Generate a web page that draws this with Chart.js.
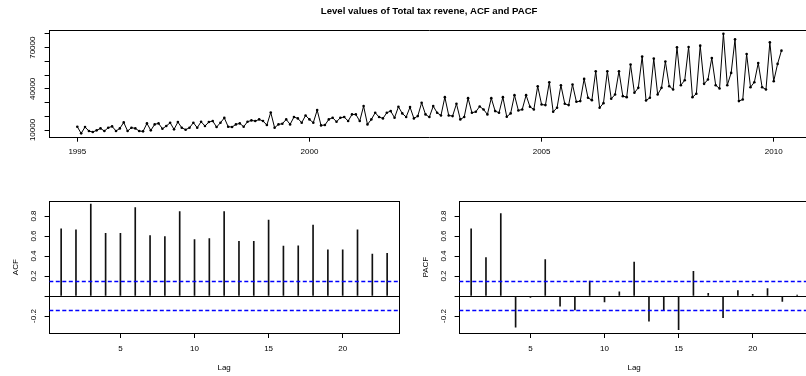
<!DOCTYPE html>
<html>
<head>
<meta charset="utf-8">
<title>Level values of Total tax revene, ACF and PACF</title>
<script src="https://cdn.jsdelivr.net/npm/chart.js@4.4.1/dist/chart.umd.min.js"></script>
<style>
    html, body { margin: 0; padding: 0; background: #fff; overflow: hidden; }
    #wrap { position: relative; width: 806px; height: 376px; overflow: hidden; }
    canvas { position: absolute; }
    #top { left: 0; top: 0; }
    #acf { left: 0; top: 160px; }
    #pacf { left: 410px; top: 160px; }
</style>
</head>
<body>
<div id="wrap">
    <canvas id="top" width="820" height="165"></canvas>
    <canvas id="acf" width="410" height="216"></canvas>
    <canvas id="pacf" width="410" height="216"></canvas>
</div>
<script>
// monthly series, Jan 1995 .. Mar 2010
var startYear = 1995;
var freq = 12;
var revenue = [
    12400, 7550, 12160, 9250, 8520, 9730, 11180, 9250, 11670, 12640, 9250, 11180,
    15540, 9250, 11670, 11180, 9250, 9010, 14820, 9730, 14090, 14820, 10940, 12880,
    15300, 10460, 15790, 11670, 10220, 11670, 15300, 11670, 16030, 12880, 15790, 16510,
    12160, 15300, 18800, 12400, 12160, 14090, 14820, 12400, 16030, 16990, 16510, 17720,
    16510, 13610, 22800, 11670, 14090, 14580, 17720, 14090, 19420, 18450, 15300, 20620,
    17720, 15300, 24500, 13370, 13610, 17720, 18930, 16030, 18930, 19420, 16510, 21350,
    21350, 16510, 27410, 14090, 17720, 22560, 19420, 18450, 22560, 23780, 18930, 26920,
    22080, 19420, 26680, 18450, 20140, 29830, 21350, 19420, 27410, 22560, 20620, 33940,
    20620, 20140, 29100, 17720, 19420, 33220, 22560, 23290, 27160, 24980, 21350, 33220,
    23780, 22560, 33940, 19660, 22080, 35400, 24260, 24980, 35400, 26920, 24980, 41930,
    28610, 28130, 44840, 23290, 26190, 42660, 29100, 28130, 43140, 30550, 31040, 47250,
    33460, 31760, 52820, 26190, 29580, 52820, 32730, 35880, 52820, 34670, 33940, 57660,
    37090, 40720, 63470, 31520, 33460, 62020, 35880, 40720, 59840, 41930, 39510, 70250,
    42660, 46290, 70490, 33940, 36360, 71460, 43620, 46770, 62500, 42660, 40230, 80170,
    42660, 51610, 76060, 31040, 32250, 65410, 41200, 44840, 58870, 41200, 39510, 73880,
    45560, 58150, 67830
];
var yearTicks = [1995, 2000, 2005, 2010];
var revenueTicks = [10000, 20000, 30000, 40000, 50000, 60000, 70000, 80000];
var revenueLabels = [10000, 40000, 70000];

var lags = [1, 2, 3, 4, 5, 6, 7, 8, 9, 10, 11, 12, 13, 14, 15, 16, 17, 18, 19, 20, 21, 22, 23];
var acfValues = [0.671, 0.661, 0.919, 0.627, 0.627, 0.885, 0.603, 0.593, 0.844, 0.563, 0.573, 0.844,
    0.546, 0.546, 0.759, 0.498, 0.502, 0.708, 0.461, 0.461, 0.661, 0.420, 0.427];
var pacfValues = [0.671, 0.383, 0.824, -0.312, -0.014, 0.363, -0.102, -0.139, 0.149, -0.058, 0.041, 0.339,
    -0.251, -0.142, -0.336, 0.247, 0.027, -0.217, 0.054, 0.017, 0.075, -0.054, 0.010];
var ciBound = 0.145;
var lagTicks = [5, 10, 15, 20];
var corTicks = [-0.2, 0, 0.2, 0.4, 0.6, 0.8];

Chart.defaults.font.family = "'Liberation Sans', Arial, Helvetica, sans-serif";
Chart.defaults.font.size = 8;
Chart.defaults.color = '#000';

function setTicks(list) {
    return function(scale) {
        scale.ticks = list.map(function(v) { return {value: v}; });
    };
}

// top and right sides of the box, as empty axes
function boxTop() {
    return {
        type: 'linear', position: 'top', display: true,
        ticks: {display: false}, grid: {display: false},
        border: {display: true, color: '#000', width: 1},
        afterFit: function(s) { s.height = 0; }
    };
}
function boxRight() {
    return {
        type: 'linear', position: 'right', display: true,
        ticks: {display: false}, grid: {display: false},
        border: {display: true, color: '#000', width: 1},
        afterFit: function(s) { s.width = 0; }
    };
}

var seriesPoints = revenue.map(function(v, i) {
    return {x: startYear + i / freq, y: v};
});

new Chart(document.getElementById('top'), {
    type: 'line',
    data: {
        datasets: [{
            data: seriesPoints,
            borderColor: '#000',
            borderWidth: 1,
            pointRadius: 1.3,
            pointBorderWidth: 0,
            pointBackgroundColor: '#000',
            tension: 0
        }]
    },
    options: {
        responsive: false,
        animation: false,
        events: [],
        layout: {padding: {left: 0, right: 11, top: 0, bottom: 0}},
        plugins: {
            legend: {display: false},
            tooltip: {enabled: false},
            title: {
                display: true,
                fullSize: false,
                text: 'Level values of Total tax revene, ACF and PACF',
                color: '#000',
                font: {size: 9.6, weight: 'bold'},
                padding: {top: 5.5, bottom: 13}
            }
        },
        scales: {
            x: {
                type: 'linear', min: 1994.397, max: 2010.76,
                afterBuildTicks: setTicks(yearTicks),
                afterFit: function(s) { s.height = 28; },
                ticks: {padding: 5.5, maxRotation: 0, autoSkip: false,
                    callback: function(v) { return String(v); }},
                grid: {drawOnChartArea: false, tickLength: 4.7, color: '#000'},
                border: {color: '#000', width: 1}
            },
            y: {
                type: 'linear', min: 4900, max: 82850,
                afterBuildTicks: setTicks(revenueTicks),
                afterFit: function(s) { s.width = 49.3; },
                ticks: {padding: 0.2, minRotation: 90, crossAlign: 'center', autoSkip: false,
                    callback: function(v) { return revenueLabels.indexOf(v) >= 0 ? String(v) : ''; }},
                grid: {drawOnChartArea: false, tickLength: 4.7, color: '#000'},
                border: {color: '#000', width: 1}
            },
            x2: boxTop(),
            y2: boxRight()
        }
    }
});

// dashed 95% bound at level y, across the whole panel
function boundLine(y) {
    return {
        type: 'line',
        data: [{x: 0.2, y: y}, {x: 23.8, y: y}],
        borderColor: '#0000ff',
        borderWidth: 1.3,
        borderDash: [4, 2.5],
        pointRadius: 0,
        order: 0
    };
}

function corChart(id, values, title) {
    return new Chart(document.getElementById(id), {
        type: 'bar',
        data: {
            datasets: [boundLine(ciBound), boundLine(-ciBound), {
                type: 'bar',
                data: lags.map(function(l, i) { return {x: l, y: values[i]}; }),
                backgroundColor: '#111',
                barThickness: 1,
                grouped: false,
                order: 1
            }]
        },
        options: {
            responsive: false,
            animation: false,
            events: [],
            layout: {padding: {left: 0, right: 11, top: 41, bottom: 0}},
            plugins: {legend: {display: false}, tooltip: {enabled: false}},
            scales: {
                x: {
                    type: 'linear', min: 0.2, max: 23.8, offset: false,
                    afterBuildTicks: setTicks(lagTicks),
                    afterFit: function(s) { s.height = 42.7; },
                    ticks: {padding: 5.5, maxRotation: 0, autoSkip: false,
                        callback: function(v) { return String(v); }},
                    grid: {drawOnChartArea: false, offset: false, tickLength: 4.7, color: '#000'},
                    border: {color: '#000', width: 1},
                    title: {display: true, text: 'Lag', padding: {top: 0, bottom: 3.5}}
                },
                y: {
                    type: 'linear', min: -0.373, max: 0.95,
                    afterBuildTicks: setTicks(corTicks),
                    afterFit: function(s) { s.width = 49.3; },
                    ticks: {padding: 4.4, minRotation: 90, crossAlign: 'center', autoSkip: false,
                        callback: function(v) { return Math.abs(v) < 1e-9 ? '' : v.toFixed(1); }},
                    grid: {
                        tickLength: 4.7,
                        tickColor: '#000',
                        color: function(c) {
                            return (c.tick && Math.abs(c.tick.value) < 1e-9) ? '#000' : 'rgba(0,0,0,0)';
                        }
                    },
                    border: {color: '#000', width: 1},
                    title: {display: true, text: title, padding: {top: 10.7, bottom: 0}}
                },
                x2: boxTop(),
                y2: boxRight()
            }
        }
    });
}

corChart('acf', acfValues, 'ACF');
corChart('pacf', pacfValues, 'PACF');
</script>
</body>
</html>
